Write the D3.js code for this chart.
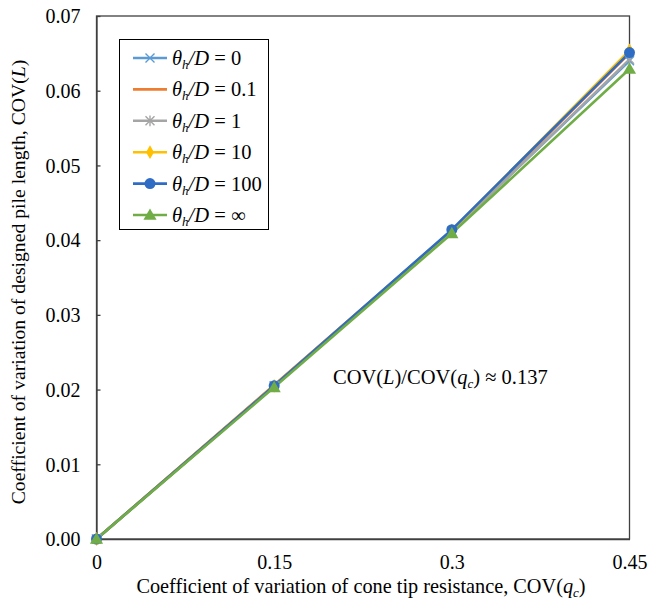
<!DOCTYPE html>
<html><head><meta charset="utf-8">
<script src="https://cdn.jsdelivr.net/npm/d3@7"></script>
<style>body{margin:0;background:#fff}svg{display:block}svg text{font-family:"Liberation Serif","Times New Roman",serif !important;fill:#000}</style>
</head><body>
<svg id="c" width="648" height="607"></svg>
<script>
const xValues = [0, 0.15, 0.3, 0.45];
const xTickLabels = ["0", "0.15", "0.3", "0.45"];
const yTicks = [0, 0.01, 0.02, 0.03, 0.04, 0.05, 0.06, 0.07];
const seriesNames = ["0", "0.1", "1", "10", "100", "∞"];
const s0 = [0, 0.0205, 0.0412, 0.0640];
const s01 = [0, 0.0206, 0.0413, 0.0650];
const s1 = [0, 0.0204, 0.0411, 0.0642];
const s10 = [0, 0.0205, 0.0413, 0.0654];
const s100 = [0, 0.0205, 0.0414, 0.0651];
const sInf = [0, 0.0203, 0.0409, 0.0629];
const seriesValues = [s0, s01, s1, s10, s100, sInf];
const colors = ["#5B9BD5", "#ED7D31", "#A5A5A5", "#FFC000", "#2F6CC4", "#70AD47"];
const markers = ["cross", "none", "star", "diamond", "circle", "triangle"];

const FONT = '"Liberation Serif","Times New Roman",serif';
const svg = d3.select("#c");
const L = 96.5, R = 629.5, T = 16, B = 539;
const x = d3.scaleLinear().domain([0, 0.45]).range([L, R]);
const y = d3.scaleLinear().domain([0, 0.07]).range([B, T]);

// frame
svg.append("rect").attr("x", L).attr("y", T).attr("width", R - L).attr("height", B - T)
  .attr("fill", "none").attr("stroke", "#404040").attr("stroke-width", 1.3);

// y axis
const ya = svg.append("g").attr("transform", `translate(${L},0)`)
  .call(d3.axisLeft(y).tickValues(yTicks).tickFormat(d3.format(".2f")).tickSizeInner(-4).tickSizeOuter(0).tickPadding(16));
ya.attr("font-family", FONT);
ya.select(".domain").attr("stroke", "#404040").attr("stroke-width", 1.3);
ya.selectAll(".tick line").attr("stroke", "#404040").attr("stroke-width", 1.3);
ya.selectAll("text").style("font-size", "20px").style("font-family", FONT).attr("dy", "0.34em");

// x axis
const xa = svg.append("g").attr("transform", `translate(0,${B})`)
  .call(d3.axisBottom(x).tickValues(xValues).tickFormat((d, i) => xTickLabels[i]).tickSize(0).tickPadding(16));
xa.attr("font-family", FONT);
xa.select(".domain").attr("stroke", "#404040").attr("stroke-width", 1.3);
xa.selectAll("text").style("font-size", "20px").style("font-family", FONT);

// axis titles
const xt = svg.append("text").attr("x", 361).attr("y", 593).attr("text-anchor", "middle").style("font-size", "20.3px");
xt.append("tspan").text("Coefficient of variation of cone tip resistance, COV(");
xt.append("tspan").attr("font-style", "italic").text("q");
xt.append("tspan").attr("font-style", "italic").attr("font-size", "13px").attr("dy", 4).text("c");
xt.append("tspan").attr("dy", -4).text(")");

const yt = svg.append("text").attr("transform", "translate(25,282) rotate(-90)").attr("text-anchor", "middle").style("font-size", "19.7px");
yt.append("tspan").text("Coefficient of variation of designed pile length, COV(");
yt.append("tspan").attr("font-style", "italic").text("L");
yt.append("tspan").text(")");

// annotation
const an = svg.append("text").attr("x", 333).attr("y", 384).style("font-size", "20.5px");
an.append("tspan").text("COV(");
an.append("tspan").attr("font-style", "italic").text("L");
an.append("tspan").text(")/COV(");
an.append("tspan").attr("font-style", "italic").text("q");
an.append("tspan").attr("font-style", "italic").attr("font-size", "13px").attr("dy", 4).text("c");
an.append("tspan").attr("dy", -4).text(") ≈ 0.137");

// marker drawing
function drawMarker(g, type, color, cx, cy, scale) {
  const k = scale || 1;
  if (type === "cross") {
    const s = 4.5 * k;
    g.append("path").attr("d", `M${cx - s},${cy - s}L${cx + s},${cy + s}M${cx - s},${cy + s}L${cx + s},${cy - s}`)
      .attr("stroke", color).attr("stroke-width", 1.4).attr("fill", "none");
  } else if (type === "star") {
    const s = 4.5 * k;
    g.append("path").attr("d", `M${cx - s},${cy - s}L${cx + s},${cy + s}M${cx - s},${cy + s}L${cx + s},${cy - s}M${cx},${cy - s * 1.2}L${cx},${cy + s * 1.2}`)
      .attr("stroke", color).attr("stroke-width", 1.4).attr("fill", "none");
  } else if (type === "diamond") {
    g.append("path").attr("d", d3.symbol(d3.symbolDiamond, 55 * k * k)()).attr("transform", `translate(${cx},${cy})`).attr("fill", color);
  } else if (type === "circle") {
    g.append("circle").attr("cx", cx).attr("cy", cy).attr("r", 5.5 * k).attr("fill", color);
  } else if (type === "triangle") {
    g.append("path").attr("d", d3.symbol(d3.symbolTriangle, 75 * k * k)()).attr("transform", `translate(${cx},${cy + 1})`).attr("fill", color);
  }
}

// lines
const line = d3.line().x((d, i) => x(xValues[i])).y(d => y(d));
const plot = svg.append("g");
seriesValues.forEach((vals, si) => {
  plot.append("path").datum(vals).attr("d", line).attr("fill", "none")
    .attr("stroke", colors[si]).attr("stroke-width", 2.6).attr("stroke-linejoin", "round");
});
seriesValues.forEach((vals, si) => {
  const g = plot.append("g");
  vals.forEach((v, i) => drawMarker(g, markers[si], colors[si], x(xValues[i]), y(v)));
});

// legend
const lg = svg.append("g");
lg.append("rect").attr("x", 119.5).attr("y", 39.5).attr("width", 149).attr("height", 190)
  .attr("fill", "#fff").attr("stroke", "#000").attr("stroke-width", 1);
seriesNames.forEach((n, i) => {
  const cy = 58 + i * 31.4;
  lg.append("line").attr("x1", 133).attr("x2", 167).attr("y1", cy).attr("y2", cy)
    .attr("stroke", colors[i]).attr("stroke-width", 2.6);
  drawMarker(lg, markers[i], colors[i], 150, cy);
  const t = lg.append("text").attr("x", 172).attr("y", cy + 7).style("font-size", "20.5px");
  t.append("tspan").attr("font-style", "italic").text("θ");
  t.append("tspan").attr("font-style", "italic").attr("font-size", "13px").attr("dy", 4).text("h");
  t.append("tspan").attr("font-style", "italic").attr("dy", -4).text("/D");
  t.append("tspan").text(" = " + n);
});
</script>
</body></html>
